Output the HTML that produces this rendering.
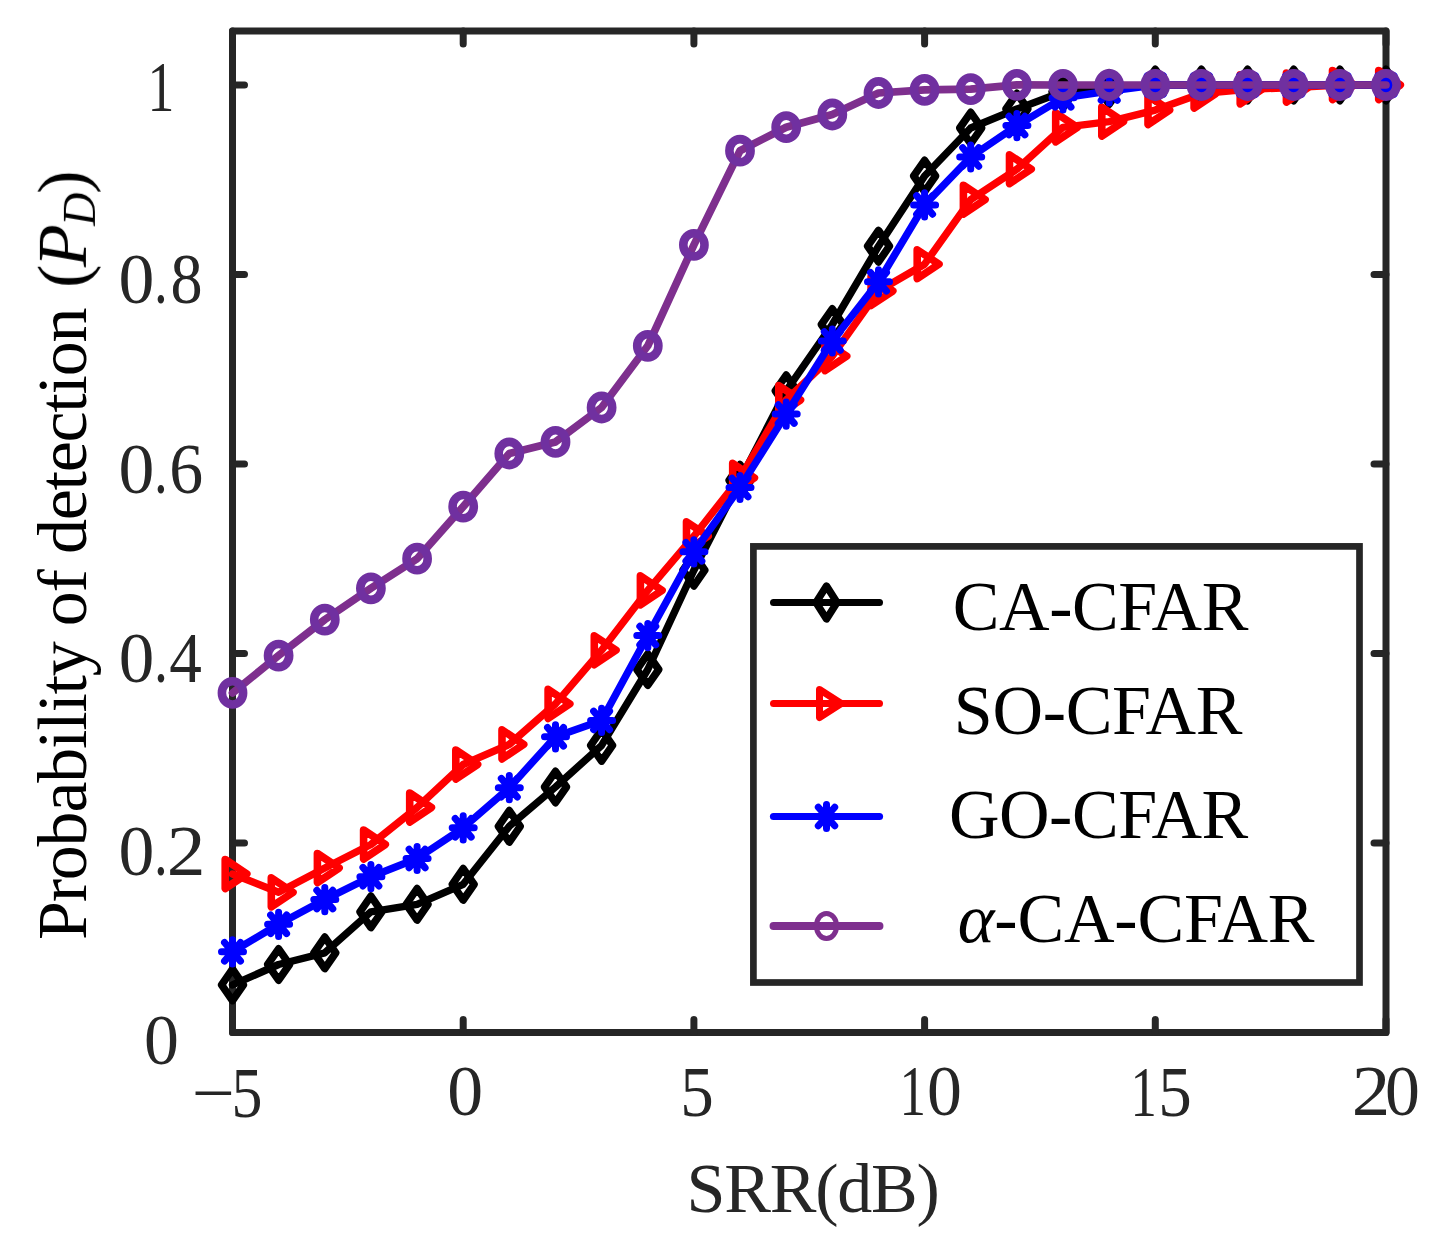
<!DOCTYPE html>
<html><head><meta charset="utf-8"><style>
html,body{margin:0;padding:0;background:#fff;}
svg{display:block;}
text{font-family:"Liberation Serif",serif;-webkit-font-smoothing:antialiased;}
</style></head><body>
<svg width="1444" height="1248" viewBox="0 0 1444 1248">
<defs><filter id="nolcd" x="-20%" y="-20%" width="140%" height="140%"><feOffset dx="0" dy="0"/></filter></defs>
<rect width="1444" height="1248" fill="#fff"/>
<path d="M232.5,1032.5V31H1386V1032.5Z" fill="none" stroke="#262626" stroke-width="7" stroke-linejoin="round"/>
<path d="M232.5,1032.5H244.5M1386,1032.5H1374M232.5,843.0H244.5M1386,843.0H1374M232.5,653.5H244.5M1386,653.5H1374M232.5,464.0H244.5M1386,464.0H1374M232.5,274.5H244.5M1386,274.5H1374M232.5,85.0H244.5M1386,85.0H1374M232.5,1032.5V1019.5M232.5,31V44M463.2,1032.5V1019.5M463.2,31V44M693.9,1032.5V1019.5M693.9,31V44M924.6,1032.5V1019.5M924.6,31V44M1155.3,1032.5V1019.5M1155.3,31V44M1386.0,1032.5V1019.5M1386.0,31V44" fill="none" stroke="#262626" stroke-width="7" stroke-linecap="round"/>
<polyline points="232.5,984.9 278.6,964.5 324.8,952.8 370.9,911.8 417.1,904.3 463.2,884.3 509.3,826.3 555.5,787.0 601.6,745.4 647.8,669.5 693.9,570.2 740.0,480.3 786.2,390.8 832.3,324.5 878.5,246.2 924.6,176.0 970.7,128.0 1016.9,109.0 1063.0,91.8 1109.2,88.5 1155.3,85.0 1201.4,85.0 1247.6,85.0 1293.7,85.0 1339.9,85.0 1386.0,85.0" fill="none" stroke="#000" stroke-width="7.4" stroke-linejoin="round" stroke-linecap="round"/>
<path d="M232.5,969.2L243.4,984.9L232.5,1000.6L221.6,984.9ZM278.6,948.8L289.5,964.5L278.6,980.2L267.7,964.5ZM324.8,937.1L335.7,952.8L324.8,968.5L313.9,952.8ZM370.9,896.1L381.8,911.8L370.9,927.5L360.0,911.8ZM417.1,888.6L428.0,904.3L417.1,920.0L406.2,904.3ZM463.2,868.6L474.1,884.3L463.2,900.0L452.3,884.3ZM509.3,810.6L520.2,826.3L509.3,842.0L498.4,826.3ZM555.5,771.3L566.4,787.0L555.5,802.7L544.6,787.0ZM601.6,729.7L612.5,745.4L601.6,761.1L590.7,745.4ZM647.8,653.8L658.7,669.5L647.8,685.2L636.9,669.5ZM693.9,554.5L704.8,570.2L693.9,585.9L683.0,570.2ZM740.0,464.6L750.9,480.3L740.0,496.0L729.1,480.3ZM786.2,375.1L797.1,390.8L786.2,406.5L775.3,390.8ZM832.3,308.8L843.2,324.5L832.3,340.2L821.4,324.5ZM878.5,230.5L889.4,246.2L878.5,261.9L867.6,246.2ZM924.6,160.3L935.5,176.0L924.6,191.7L913.7,176.0ZM970.7,112.3L981.6,128.0L970.7,143.7L959.8,128.0ZM1016.9,93.3L1027.8,109.0L1016.9,124.7L1006.0,109.0ZM1063.0,76.1L1073.9,91.8L1063.0,107.5L1052.1,91.8ZM1109.2,72.8L1120.1,88.5L1109.2,104.2L1098.3,88.5ZM1155.3,69.3L1166.2,85.0L1155.3,100.7L1144.4,85.0ZM1201.4,69.3L1212.3,85.0L1201.4,100.7L1190.5,85.0ZM1247.6,69.3L1258.5,85.0L1247.6,100.7L1236.7,85.0ZM1293.7,69.3L1304.6,85.0L1293.7,100.7L1282.8,85.0ZM1339.9,69.3L1350.8,85.0L1339.9,100.7L1329.0,85.0ZM1386.0,69.3L1396.9,85.0L1386.0,100.7L1375.1,85.0Z" fill="none" stroke="#000" stroke-width="7.6" stroke-linejoin="round" stroke-linecap="round"/>
<polyline points="232.5,874.0 278.6,892.3 324.8,868.0 370.9,844.5 417.1,807.5 463.2,764.5 509.3,744.4 555.5,703.9 601.6,650.2 647.8,590.3 693.9,536.2 740.0,477.8 786.2,400.0 832.3,356.2 878.5,291.0 924.6,264.2 970.7,199.6 1016.9,169.2 1063.0,127.3 1109.2,121.6 1155.3,110.1 1201.4,93.5 1247.6,89.3 1293.7,87.5 1339.9,85.0 1386.0,85.0" fill="none" stroke="#f00" stroke-width="7.4" stroke-linejoin="round" stroke-linecap="round"/>
<path d="M225.2,859.5L246.8,874.0L225.2,888.5ZM271.3,877.8L293.0,892.3L271.3,906.8ZM317.4,853.5L339.1,868.0L317.4,882.5ZM363.6,830.0L385.3,844.5L363.6,859.0ZM409.7,793.0L431.4,807.5L409.7,822.0ZM455.8,750.0L477.6,764.5L455.8,779.0ZM502.0,729.9L523.7,744.4L502.0,758.9ZM548.1,689.4L569.8,703.9L548.1,718.4ZM594.3,635.8L616.0,650.2L594.3,664.7ZM640.4,575.8L662.1,590.3L640.4,604.8ZM686.5,521.8L708.2,536.2L686.5,550.7ZM732.7,463.4L754.4,477.8L732.7,492.2ZM778.8,385.6L800.5,400.0L778.8,414.4ZM825.0,341.8L846.7,356.2L825.0,370.6ZM871.1,276.6L892.8,291.0L871.1,305.4ZM917.2,249.8L939.0,264.2L917.2,278.6ZM963.4,185.2L985.1,199.6L963.4,214.0ZM1009.5,154.8L1031.2,169.2L1009.5,183.6ZM1055.7,112.8L1077.4,127.3L1055.7,141.8ZM1101.8,107.1L1123.5,121.6L1101.8,136.0ZM1148.0,95.6L1169.6,110.1L1148.0,124.5ZM1194.1,79.0L1215.8,93.5L1194.1,108.0ZM1240.2,74.8L1261.9,89.3L1240.2,103.8ZM1286.4,73.0L1308.1,87.5L1286.4,102.0ZM1332.5,70.5L1354.2,85.0L1332.5,99.5ZM1378.7,70.5L1400.3,85.0L1378.7,99.5Z" fill="none" stroke="#f00" stroke-width="7.6" stroke-linejoin="round" stroke-linecap="round"/>
<polyline points="232.5,951.8 278.6,924.3 324.8,899.6 370.9,876.7 417.1,858.5 463.2,827.8 509.3,787.7 555.5,736.8 601.6,720.4 647.8,635.6 693.9,551.8 740.0,487.5 786.2,414.1 832.3,341.0 878.5,281.8 924.6,204.9 970.7,157.0 1016.9,125.6 1063.0,97.8 1109.2,91.0 1155.3,85.0 1201.4,85.0 1247.6,85.0 1293.7,85.0 1339.9,85.0 1386.0,85.0" fill="none" stroke="#00f" stroke-width="7.4" stroke-linejoin="round" stroke-linecap="round"/>
<path d="M221.5,951.8H243.5M232.5,939.7V963.9M224.5,942.5L240.5,961.1M224.5,961.1L240.5,942.5M267.6,924.3H289.6M278.6,912.2V936.4M270.6,915.0L286.6,933.6M270.6,933.6L286.6,915.0M313.8,899.6H335.8M324.8,887.5V911.7M316.8,890.3L332.8,908.9M316.8,908.9L332.8,890.3M359.9,876.7H381.9M370.9,864.6V888.8M362.9,867.4L378.9,886.0M362.9,886.0L378.9,867.4M406.1,858.5H428.1M417.1,846.4V870.6M409.1,849.2L425.1,867.8M409.1,867.8L425.1,849.2M452.2,827.8H474.2M463.2,815.7V839.9M455.2,818.5L471.2,837.1M455.2,837.1L471.2,818.5M498.3,787.7H520.3M509.3,775.6V799.8M501.3,778.4L517.3,797.0M501.3,797.0L517.3,778.4M544.5,736.8H566.5M555.5,724.7V748.9M547.5,727.5L563.5,746.1M547.5,746.1L563.5,727.5M590.6,720.4H612.6M601.6,708.3V732.5M593.6,711.1L609.6,729.7M593.6,729.7L609.6,711.1M636.8,635.6H658.8M647.8,623.5V647.7M639.8,626.3L655.8,644.9M639.8,644.9L655.8,626.3M682.9,551.8H704.9M693.9,539.7V563.9M685.9,542.5L701.9,561.1M685.9,561.1L701.9,542.5M729.0,487.5H751.0M740.0,475.4V499.6M732.0,478.2L748.0,496.8M732.0,496.8L748.0,478.2M775.2,414.1H797.2M786.2,402.0V426.2M778.2,404.8L794.2,423.4M778.2,423.4L794.2,404.8M821.3,341.0H843.3M832.3,328.9V353.1M824.3,331.7L840.3,350.3M824.3,350.3L840.3,331.7M867.5,281.8H889.5M878.5,269.7V293.9M870.5,272.5L886.5,291.1M870.5,291.1L886.5,272.5M913.6,204.9H935.6M924.6,192.8V217.0M916.6,195.6L932.6,214.2M916.6,214.2L932.6,195.6M959.7,157.0H981.7M970.7,144.9V169.1M962.7,147.7L978.7,166.3M962.7,166.3L978.7,147.7M1005.9,125.6H1027.9M1016.9,113.5V137.7M1008.9,116.3L1024.9,134.9M1008.9,134.9L1024.9,116.3M1052.0,97.8H1074.0M1063.0,85.7V109.9M1055.0,88.5L1071.0,107.1M1055.0,107.1L1071.0,88.5M1098.2,91.0H1120.2M1109.2,78.9V103.1M1101.2,81.7L1117.2,100.3M1101.2,100.3L1117.2,81.7M1144.3,85.0H1166.3M1155.3,72.9V97.1M1147.3,75.7L1163.3,94.3M1147.3,94.3L1163.3,75.7M1190.4,85.0H1212.4M1201.4,72.9V97.1M1193.4,75.7L1209.4,94.3M1193.4,94.3L1209.4,75.7M1236.6,85.0H1258.6M1247.6,72.9V97.1M1239.6,75.7L1255.6,94.3M1239.6,94.3L1255.6,75.7M1282.7,85.0H1304.7M1293.7,72.9V97.1M1285.7,75.7L1301.7,94.3M1285.7,94.3L1301.7,75.7M1328.9,85.0H1350.9M1339.9,72.9V97.1M1331.9,75.7L1347.9,94.3M1331.9,94.3L1347.9,75.7M1375.0,85.0H1397.0M1386.0,72.9V97.1M1378.0,75.7L1394.0,94.3M1378.0,94.3L1394.0,75.7" fill="none" stroke="#00f" stroke-width="7.0" stroke-linejoin="round" stroke-linecap="round"/>
<polyline points="232.5,692.9 278.6,655.6 324.8,619.6 370.9,588.3 417.1,558.7 463.2,506.6 509.3,453.5 555.5,441.9 601.6,407.5 647.8,345.8 693.9,244.9 740.0,150.7 786.2,127.2 832.3,114.5 878.5,93.0 924.6,89.8 970.7,89.1 1016.9,84.8 1063.0,85.0 1109.2,85.0 1155.3,85.0 1201.4,85.0 1247.6,85.0 1293.7,85.0 1339.9,85.0 1386.0,85.0" fill="none" stroke="#7e2f8e" stroke-width="7.7" stroke-linejoin="round" stroke-linecap="round"/>
<ellipse cx="232.5" cy="692.9" rx="10.6" ry="11.6" fill="none" stroke="#7030a0" stroke-width="8.6"/>
<ellipse cx="278.6" cy="655.6" rx="10.6" ry="11.6" fill="none" stroke="#7030a0" stroke-width="8.6"/>
<ellipse cx="324.8" cy="619.6" rx="10.6" ry="11.6" fill="none" stroke="#7030a0" stroke-width="8.6"/>
<ellipse cx="370.9" cy="588.3" rx="10.6" ry="11.6" fill="none" stroke="#7030a0" stroke-width="8.6"/>
<ellipse cx="417.1" cy="558.7" rx="10.6" ry="11.6" fill="none" stroke="#7030a0" stroke-width="8.6"/>
<ellipse cx="463.2" cy="506.6" rx="10.6" ry="11.6" fill="none" stroke="#7030a0" stroke-width="8.6"/>
<ellipse cx="509.3" cy="453.5" rx="10.6" ry="11.6" fill="none" stroke="#7030a0" stroke-width="8.6"/>
<ellipse cx="555.5" cy="441.9" rx="10.6" ry="11.6" fill="none" stroke="#7030a0" stroke-width="8.6"/>
<ellipse cx="601.6" cy="407.5" rx="10.6" ry="11.6" fill="none" stroke="#7030a0" stroke-width="8.6"/>
<ellipse cx="647.8" cy="345.8" rx="10.6" ry="11.6" fill="none" stroke="#7030a0" stroke-width="8.6"/>
<ellipse cx="693.9" cy="244.9" rx="10.6" ry="11.6" fill="none" stroke="#7030a0" stroke-width="8.6"/>
<ellipse cx="740.0" cy="150.7" rx="10.6" ry="11.6" fill="none" stroke="#7030a0" stroke-width="8.6"/>
<ellipse cx="786.2" cy="127.2" rx="10.6" ry="11.6" fill="none" stroke="#7030a0" stroke-width="8.6"/>
<ellipse cx="832.3" cy="114.5" rx="10.6" ry="11.6" fill="none" stroke="#7030a0" stroke-width="8.6"/>
<ellipse cx="878.5" cy="93.0" rx="10.6" ry="11.6" fill="none" stroke="#7030a0" stroke-width="8.6"/>
<ellipse cx="924.6" cy="89.8" rx="10.6" ry="11.6" fill="none" stroke="#7030a0" stroke-width="8.6"/>
<ellipse cx="970.7" cy="89.1" rx="10.6" ry="11.6" fill="none" stroke="#7030a0" stroke-width="8.6"/>
<ellipse cx="1016.9" cy="84.8" rx="10.6" ry="11.6" fill="none" stroke="#7030a0" stroke-width="8.6"/>
<ellipse cx="1063.0" cy="85.0" rx="10.6" ry="11.6" fill="none" stroke="#7030a0" stroke-width="8.6"/>
<ellipse cx="1109.2" cy="85.0" rx="10.6" ry="11.6" fill="none" stroke="#7030a0" stroke-width="8.6"/>
<ellipse cx="1155.3" cy="85.0" rx="10.6" ry="11.6" fill="none" stroke="#7030a0" stroke-width="8.6"/>
<ellipse cx="1201.4" cy="85.0" rx="10.6" ry="11.6" fill="none" stroke="#7030a0" stroke-width="8.6"/>
<ellipse cx="1247.6" cy="85.0" rx="10.6" ry="11.6" fill="none" stroke="#7030a0" stroke-width="8.6"/>
<ellipse cx="1293.7" cy="85.0" rx="10.6" ry="11.6" fill="none" stroke="#7030a0" stroke-width="8.6"/>
<ellipse cx="1339.9" cy="85.0" rx="10.6" ry="11.6" fill="none" stroke="#7030a0" stroke-width="8.6"/>
<ellipse cx="1386.0" cy="85.0" rx="10.6" ry="11.6" fill="none" stroke="#7030a0" stroke-width="8.6"/>
<g font-family="Liberation Serif" font-size="72" fill="#262626"><text transform="translate(147.42,111.1) scale(0.746,1)">1</text><text transform="translate(118.51,303.4) scale(0.997,1)">0</text><text transform="translate(154.09,303.4) scale(0.762,1)">.</text><text transform="translate(170.53,303.4) scale(0.890,1)">8</text><text transform="translate(118.51,493.4) scale(0.997,1)">0</text><text transform="translate(154.09,493.4) scale(0.762,1)">.</text><text transform="translate(169.17,493.4) scale(0.942,1)">6</text><text transform="translate(118.84,681.8) scale(0.987,1)">0</text><text transform="translate(153.93,681.8) scale(0.775,1)">.</text><text transform="translate(169.19,681.8) scale(0.906,1)">4</text><text transform="translate(118.51,875.0) scale(0.997,1)">0</text><text transform="translate(154.09,875.0) scale(0.762,1)">.</text><text transform="translate(166.77,875.0) scale(1.076,1)">2</text><text transform="translate(143.89,1064.0) scale(0.970,1)">0</text><text transform="translate(191.76,1117.0) scale(1.061,1)">−</text><text transform="translate(231.57,1117.0) scale(0.859,1)">5</text><text transform="translate(447.31,1115.0) scale(0.997,1)">0</text><text transform="translate(680.18,1115.5) scale(0.931,1)">5</text><text transform="translate(899.49,1115.0) scale(0.735,1)">1</text><text transform="translate(926.99,1115.0) scale(0.970,1)">0</text><text transform="translate(1130.52,1115.5) scale(0.731,1)">1</text><text transform="translate(1158.28,1115.5) scale(0.931,1)">5</text><text transform="translate(1351.79,1115.3) scale(1.069,1)">2</text><text transform="translate(1384.99,1115.3) scale(0.970,1)">0</text></g>
<text x="686.6" y="1211.8" letter-spacing="-1.25" font-family="Liberation Serif" font-size="70" fill="#262626">SRR(dB)</text>
<g font-family="Liberation Serif" font-size="70" fill="#000"><text transform="translate(85.9,939.9) rotate(-90)" letter-spacing="-1.24">Probability of detection</text><g transform="translate(85.9,284.8) rotate(-90)" filter="url(#nolcd)"><text x="-3" y="0">(</text><text x="17.7" y="0" font-style="italic">P</text><text transform="translate(58.9,9.2) scale(0.6571)" font-style="italic" font-size="70">D</text><text x="90.9" y="0">)</text></g></g>
<rect x="753.4" y="546.4" width="606.1" height="436.1" fill="#fff" stroke="#262626" stroke-width="6.7"/>
<path d="M773.5,602.5H879.5" stroke="#000" stroke-width="7" stroke-linecap="round"/>
<path d="M826.5,586.1L837.0,602.5L826.5,618.9L816.0,602.5Z" fill="none" stroke="#000" stroke-width="7.4" stroke-linejoin="round"/>
<path d="M773.5,703.5H879.5" stroke="#f00" stroke-width="7" stroke-linecap="round"/>
<path d="M819.5,689.5L841.3,703.5L819.5,717.5Z" fill="none" stroke="#f00" stroke-width="7" stroke-linejoin="round"/>
<path d="M773.5,816.5H879.5" stroke="#00f" stroke-width="7.2" stroke-linecap="round"/>
<path d="M816.0,816.5H837.0M826.5,804.4V828.6M818.3,807.2L834.7,825.8M818.3,825.8L834.7,807.2" fill="none" stroke="#00f" stroke-width="7" stroke-linecap="round"/>
<path d="M773.5,926.0H879.5" stroke="#7e2f8e" stroke-width="7.9" stroke-linecap="round"/>
<ellipse cx="826.5" cy="926.0" rx="10.1" ry="12.5" fill="none" stroke="#7e2f8e" stroke-width="5"/>
<g font-family="Liberation Serif" font-size="70" fill="#000"><text x="952.8" y="629.9" letter-spacing="-0.45">CA-CFAR</text><text x="953.8" y="733.9" letter-spacing="-0.3">SO-CFAR</text><text x="948.9" y="837.6" letter-spacing="-0.45">GO-CFAR</text><text x="957.8" y="942" letter-spacing="-0.2"><tspan font-style="italic">α</tspan>-CA-CFAR</text></g>
</svg>
</body></html>
